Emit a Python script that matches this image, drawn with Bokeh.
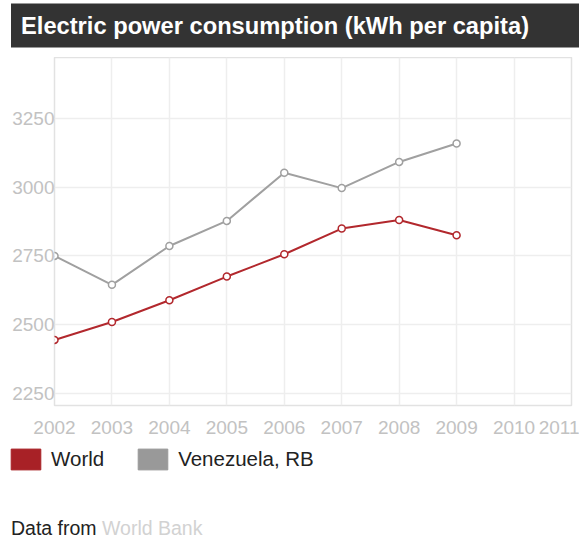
from bokeh.plotting import figure
from bokeh.layouts import column
from bokeh.models import Label, Legend, LegendItem, FixedTicker, Range1d
from bokeh.embed import file_html
from bokeh.resources import INLINE

years = [2002, 2003, 2004, 2005, 2006, 2007, 2008, 2009]
world = [2445, 2510, 2589, 2675, 2756, 2849, 2880, 2825]
venezuela = [2750, 2645, 2786, 2877, 3052, 2996, 3091, 3158]
x_ticks = [2002, 2003, 2004, 2005, 2006, 2007, 2008, 2009, 2010, 2011]
y_ticks = [2250, 2500, 2750, 3000, 3250]
title_text = "Electric power consumption (kWh per capita)"
series_names = ["World", "Venezuela, RB"]

RED = "#b2282d"
RED_KEY = "#a82126"
GRAY = "#a0a0a0"
GRAY_KEY = "#999999"
FONT = "Liberation Sans"
W = 579
NAN = float("nan")


def blank(h):
    f = figure(width=W, height=h, output_backend="svg", toolbar_location=None,
               x_axis_type=None, y_axis_type=None,
               x_range=Range1d(0, 1), y_range=Range1d(0, 1),
               min_border=0, min_border_left=0, min_border_right=0,
               min_border_top=0, min_border_bottom=0, frame_align=False)
    f.outline_line_color = None
    f.background_fill_color = "white"
    f.border_fill_color = "white"
    return f


# --- title strip ---
top = blank(57)
title = Label(x=10.5, y=32, x_units="screen", y_units="screen", text=title_text,
              text_font=FONT, text_font_style="bold", text_font_size="23.7px",
              text_color="white", text_baseline="middle", text_align="left",
              background_fill_color="#333333",
              padding=dict(left=10, right=80, top=9, bottom=9))
top.add_layout(title)

# --- main chart ---
p = figure(width=W, height=384, output_backend="svg", toolbar_location=None,
           x_range=Range1d(2002, 2011), y_range=Range1d(2207, 3470),
           min_border_left=54, min_border_right=8, min_border_top=0, min_border_bottom=36,
           frame_align=False)
p.background_fill_color = "white"
p.border_fill_color = "white"
p.outline_line_color = "#e2e2e2"
p.outline_line_width = 1.5

for ax in (p.xaxis[0], p.yaxis[0]):
    ax.axis_line_color = None
    ax.major_tick_line_color = None
    ax.minor_tick_line_color = None
    ax.major_tick_out = 0
    ax.major_tick_in = 0
    ax.minor_tick_out = 0
    ax.major_label_text_font = FONT
    ax.major_label_text_font_size = "19px"
    ax.major_label_text_color = "#c2c2c2"
p.xaxis[0].ticker = FixedTicker(ticks=x_ticks)
p.yaxis[0].ticker = FixedTicker(ticks=y_ticks)
p.xaxis[0].major_label_standoff = 15
p.yaxis[0].major_label_standoff = 0

p.xgrid[0].ticker = FixedTicker(ticks=x_ticks)
p.ygrid[0].ticker = FixedTicker(ticks=y_ticks)
for g in (p.xgrid[0], p.ygrid[0]):
    g.grid_line_color = "#eeeeee"
    g.grid_line_width = 1.5

p.line(years, venezuela, line_color=GRAY, line_width=2)
p.scatter(years, venezuela, size=7, fill_color="white", line_color=GRAY, line_width=1.5)
p.line(years, world, line_color=RED, line_width=2)
p.scatter(years, world, size=7, fill_color="white", line_color=RED, line_width=1.5)

# --- legend + source strip ---
bot = blank(96)
k1 = bot.quad(left=[NAN], right=[NAN], top=[NAN], bottom=[NAN], fill_color=RED_KEY, line_color=RED_KEY)
k2 = bot.quad(left=[NAN], right=[NAN], top=[NAN], bottom=[NAN], fill_color=GRAY_KEY, line_color=GRAY_KEY)
legend = Legend(items=[LegendItem(label=series_names[0], renderers=[k1]),
                       LegendItem(label=series_names[1], renderers=[k2])],
                orientation="horizontal", location=(7, 65),
                glyph_width=37, glyph_height=26, label_standoff=7, spacing=30,
                padding=0, margin=0, border_line_color=None, background_fill_alpha=0,
                label_text_font=FONT, label_text_font_size="20.5px", label_text_color="#222222",
                label_text_baseline="hanging")
bot.add_layout(legend, "center")

f1 = Label(x=10.5, y=10, x_units="screen", y_units="screen", text="Data from",
           text_font=FONT, text_font_size="19.5px", text_color="#222222", text_baseline="alphabetic")
f2 = Label(x=101.5, y=10, x_units="screen", y_units="screen", text="World Bank",
           text_font=FONT, text_font_size="19.5px", text_color="#d2d2d2", text_baseline="alphabetic")
bot.add_layout(f1)
bot.add_layout(f2)

layout = column(top, p, bot, spacing=0)
open("out.html", "w").write(file_html(layout, INLINE))
